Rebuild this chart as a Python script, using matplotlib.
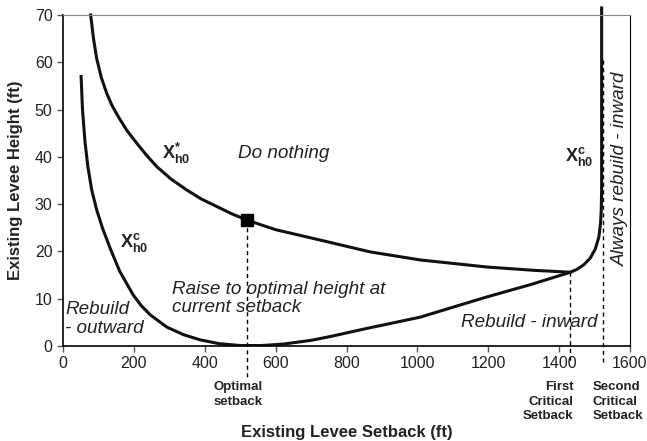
import matplotlib.pyplot as plt

plt.rcParams['font.family'] = ['Liberation Sans', 'DejaVu Sans']
plt.rcParams['mathtext.fontset'] = 'custom'
plt.rcParams['mathtext.rm'] = 'Liberation Sans'
plt.rcParams['mathtext.bf'] = 'Liberation Sans:bold'

# upper curve X*_h0 (setback ft, height ft)
upper_x = [78, 86, 95, 108, 123, 138, 156, 180, 208, 235, 265, 305, 349,
           390, 434, 475, 520, 600, 726, 867, 1008, 1197, 1330, 1432,
           1450, 1470, 1488, 1502, 1512, 1517, 1519, 1520, 1520]
upper_y = [70, 65, 60.8, 56.8, 53.5, 50.9, 48.5, 45.6, 42.9, 40.4, 37.9,
           35.3, 33, 31.1, 29.5, 28, 26.6, 24.6, 22.4, 19.9, 18.2, 16.7,
           16.0, 15.6, 16.2, 17.2, 18.6, 20.5, 23, 26, 29, 33, 71.5]

# lower curve X^c_h0
lower_x = [51, 55, 62, 70, 81, 95, 112, 135, 160, 198, 220, 246, 293, 340,
           387, 440, 500, 560, 621, 700, 754, 850, 1008, 1100, 1197,
           1320, 1432]
lower_y = [57, 50, 43.2, 38, 33, 28.8, 24.8, 20.3, 15.8, 10.8, 8.6, 6.6,
           4, 2.4, 1.3, 0.5, 0.1, 0.1, 0.4, 1.2, 2, 3.6, 6.1, 8.2, 10.4,
           13, 15.6]

optimal = (520, 26.6)
first_critical = (1432, 15.6)
second_critical = 1525

fig = plt.figure(figsize=(6.47, 4.41), dpi=100)
ax = fig.add_axes([0.0974, 0.2154, 0.8763, 0.7506])

ax.plot(upper_x, upper_y, color='#111111', lw=2.2, clip_on=False,
        solid_joinstyle='round')
ax.plot(lower_x, lower_y, color='#111111', lw=2.2, solid_joinstyle='round')
ax.plot([optimal[0]], [optimal[1]], marker='s', ms=9, color='black')

dash = (0, (3, 2.5))
ax.plot([optimal[0], optimal[0]], [optimal[1], -6.8], ls=dash,
        color='black', lw=1, clip_on=False)
ax.plot([first_critical[0], first_critical[0]], [first_critical[1], -3.4],
        ls=dash, color='black', lw=1, clip_on=False)
ax.plot([second_critical, second_critical], [60.5, -3.4], ls=dash,
        color='black', lw=1, clip_on=False)

ax.set_xlim(0, 1600)
ax.set_ylim(0, 70)
ax.set_xticks(range(0, 1601, 200))
ax.set_yticks(range(0, 71, 10))
ax.tick_params(direction='out', length=4, width=1, color='#555555',
               labelsize=11.5, labelcolor='#222222')
ax.spines['top'].set_color('#888888')
for s in ['left', 'bottom', 'right']:
    ax.spines[s].set_color('black')
ax.spines['left'].set_linewidth(1.2)
ax.spines['bottom'].set_linewidth(1.2)

ax.set_xlabel('Existing Levee Setback (ft)', fontsize=12, fontweight='bold',
              color='#222222')
ax.xaxis.set_label_coords(0.5, -0.24)
ax.set_ylabel('Existing Levee Height (ft)', fontsize=12, fontweight='bold',
              color='#222222')
ax.yaxis.set_label_coords(-0.07, 0.5)

it = dict(fontsize=13.6, style='italic', color='#222222')
ax.text(494, 40.8, 'Do nothing', va='center', **it)
ax.text(308, 10.1, 'Raise to optimal height at\ncurrent setback', va='center',
        linespacing=1.1, **it)
ax.text(6, 5.7, 'Rebuild\n- outward', va='center', linespacing=1.1, **it)
ax.text(1508, 4.9, 'Rebuild - inward', va='center', ha='right', **it)
ax.text(1573, 37.4, 'Always rebuild - inward', va='center', ha='center',
        rotation=90, **it)

ax.text(280, 40.8, r'$\mathbf{X^{*}_{h0}}$', va='center', fontsize=13,
        color='#222222')
ax.text(160, 21.8, r'$\mathbf{X^{c}_{h0}}$', va='center', fontsize=13,
        color='#222222')
ax.text(1418, 40, r'$\mathbf{X^{c}_{h0}}$', va='center', fontsize=13,
        color='#222222')

bl = dict(fontsize=9.5, fontweight='bold', color='#222222', va='top',
          linespacing=1.25)
ax.text(493, -7.5, 'Optimal\nsetback', ha='center', **bl)
ax.text(1440, -7.5, 'First\nCritical\nSetback', ha='right', **bl)
ax.text(1494, -7.5, 'Second\nCritical\nSetback', ha='left', **bl)

fig.savefig('out.png', dpi=100)
